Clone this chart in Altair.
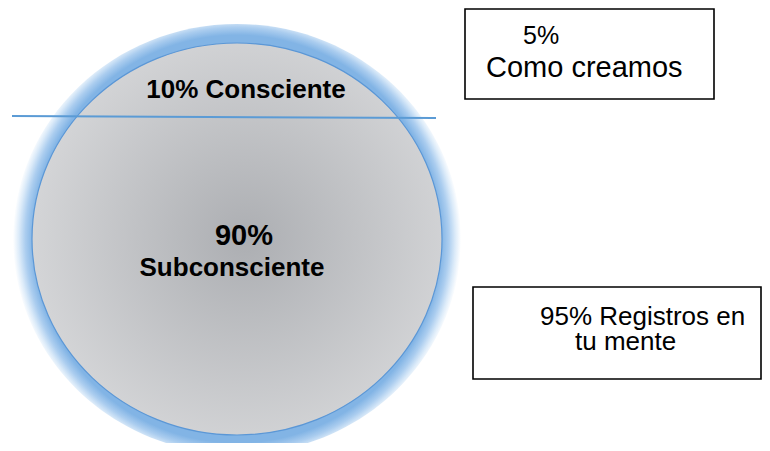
import altair as alt
import pandas as pd

# ---- content ----
circle_labels = ["10% Consciente", "90%", "Subconsciente"]
box_labels = ["5%", "Como creamos", "95% Registros en", "tu mente"]

# ---- layout (page pixel coordinates) ----
circle_cx, circle_cy, circle_rx, circle_ry = 237, 239, 205, 196
glow = 19
circle_label_x = [246, 244, 232]
circle_label_y = [98, 245, 276]
circle_label_size = [26, 29, 26]
box_label_x = [523, 486, 540, 575]
box_label_y = [44, 77, 325, 350]
box_label_size = [25, 29, 26, 26]
box_x1 = [465, 473]
box_x2 = [714, 761]
box_y1 = [9, 287]
box_y2 = [99, 379]
line_x = [12]
line_x2 = [436]
line_y = [116]
line_y2 = [118]

W, H = 754, 435
xs = alt.Scale(domain=[8, 8 + W], nice=False, zero=False)
ys = alt.Scale(domain=[8, 8 + H], nice=False, zero=False, reverse=True)

def X(f):
    return alt.X(f, type="quantitative", scale=xs, axis=None)

def Y(f):
    return alt.Y(f, type="quantitative", scale=ys, axis=None)

def ellipse_path(ratio):
    return f"M-1,0A1,{ratio} 0 1,0 1,0A1,{ratio} 0 1,0 -1,0Z"

centre = pd.DataFrame({"x": [circle_cx], "y": [circle_cy]})

gw = 2 * (circle_rx + glow)
gh = 2 * (circle_ry + glow)
edge = circle_rx / (circle_rx + glow)

glow_layer = alt.Chart(centre).mark_point(
    shape=ellipse_path(round(gh / gw, 4)),
    size=gw * gw,
    filled=True,
    opacity=1,
    strokeWidth=0,
    fill={
        "gradient": "radial",
        "x1": 0.5, "y1": 0.5, "r1": 0,
        "x2": 0.5, "y2": 0.5, "r2": 0.5,
        "stops": [
            {"offset": 0, "color": "#82b4e5"},
            {"offset": edge - 0.005, "color": "#82b4e5"},
            {"offset": edge + (1 - edge) * 0.35, "color": "#abcdef"},
            {"offset": edge + (1 - edge) * 0.7, "color": "#dcebf9"},
            {"offset": 1, "color": "#ffffff"},
        ],
    },
).encode(x=X("x"), y=Y("y"))

cw = 2 * circle_rx
ch = 2 * circle_ry
circle_layer = alt.Chart(centre).mark_point(
    shape=ellipse_path(round(ch / cw, 4)),
    size=cw * cw,
    filled=True,
    opacity=1,
    stroke="#5b97d6",
    strokeWidth=1.2,
    fill={
        "gradient": "radial",
        "x1": 0.52, "y1": 0.5, "r1": 0,
        "x2": 0.52, "y2": 0.5, "r2": 0.55,
        "stops": [
            {"offset": 0, "color": "#acaeb2"},
            {"offset": 1, "color": "#d6d7d9"},
        ],
    },
).encode(x=X("x"), y=Y("y"))

line_df = pd.DataFrame({"x": line_x, "x2": line_x2, "y": line_y, "y2": line_y2})
line_layer = alt.Chart(line_df).mark_rule(color="#5b9bd5", strokeWidth=2).encode(
    x=X("x"), x2="x2", y=Y("y"), y2="y2"
)

box_df = pd.DataFrame({"x": box_x1, "x2": box_x2, "y": box_y1, "y2": box_y2})
box_layer = alt.Chart(box_df).mark_rect(
    fill="white", stroke="black", strokeWidth=1.6
).encode(x=X("x"), x2="x2", y=Y("y"), y2="y2")

ctext = pd.DataFrame({"label": circle_labels, "x": circle_label_x,
                      "y": circle_label_y, "s": circle_label_size})
ctext_layer = alt.Chart(ctext).mark_text(
    font="Liberation Sans", fontWeight="bold", align="center",
    baseline="alphabetic", color="black"
).encode(x=X("x"), y=Y("y"), text="label:N",
         size=alt.Size("s:Q", scale=None, legend=None))

btext = pd.DataFrame({"label": box_labels, "x": box_label_x,
                      "y": box_label_y, "s": box_label_size})
btext_layer = alt.Chart(btext).mark_text(
    font="Liberation Sans", align="left", baseline="alphabetic", color="black"
).encode(x=X("x"), y=Y("y"), text="label:N",
         size=alt.Size("s:Q", scale=None, legend=None))

chart = alt.layer(
    glow_layer, circle_layer, line_layer, box_layer, ctext_layer, btext_layer
).properties(
    width=W, height=H, padding=0, background="white",
    autosize=alt.AutoSizeParams(type="none")
).configure_view(stroke=None)

chart.save("out.html", embed_options={"renderer": "svg", "actions": False})
